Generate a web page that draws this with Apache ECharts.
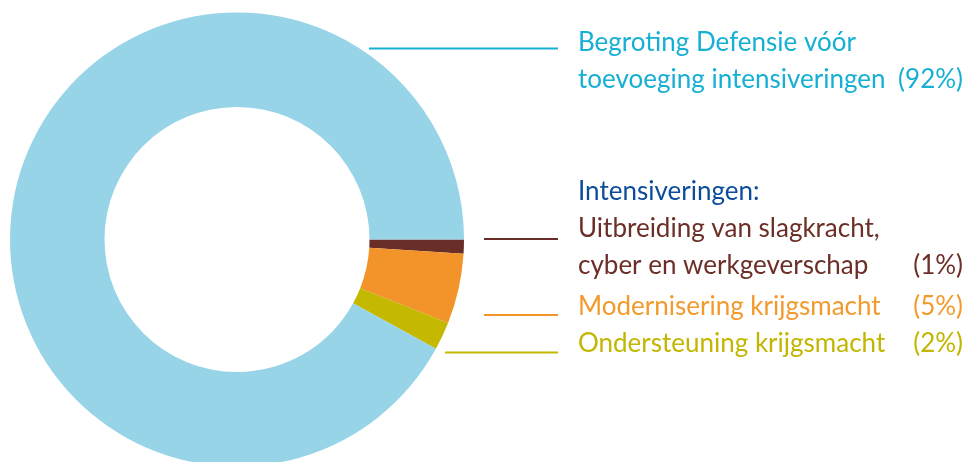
<!DOCTYPE html>
<html>
<head>
<meta charset="utf-8">
<script src="https://cdn.jsdelivr.net/npm/echarts@6/dist/echarts.min.js"></script>
<style>
  html, body { margin: 0; padding: 0; background: #fff; }
  #chart { width: 968px; height: 462px; }
</style>
</head>
<body>
<div id="chart"></div>
<script>
  // slices, clockwise from 3 o'clock
  var categories = [
    'Uitbreiding van slagkracht,\ncyber en werkgeverschap',
    'Modernisering krijgsmacht',
    'Ondersteuning krijgsmacht',
    'Begroting Defensie vóór\ntoevoeging intensiveringen'
  ];
  var values = [1, 5, 2, 92];
  var heading = 'Intensiveringen:';

  var sliceColors = ['#682e27', '#f29429', '#c4b800', '#97d4e8'];
  var textColors = ['#6b2f27', '#f39a2c', '#c3b600', '#17afd4'];

  // label anchor (left, top) and line [x1, x2, y] per slice
  var labelPos = [[578, 173], [578, 288], [578, 325], [578, 24]];
  var linePos = [[484, 558, 239], [484, 558, 315], [445, 558, 352.5], [369, 558, 48.5]];

  var chart = echarts.init(document.getElementById('chart'));

  var data = categories.map(function(name, i) {
    return {
      name: name,
      value: values[i],
      itemStyle: { color: sliceColors[i] },
      label: { color: textColors[i] },
      labelLine: { lineStyle: { color: i === 3 ? textColors[i] : sliceColors[i] } }
    };
  });

  chart.setOption({
    animation: false,
    series: [{
      type: 'pie',
      center: [237, 239.5],
      radius: [132.5, 227],
      startAngle: 0,
      clockwise: true,
      avoidLabelOverlap: false,
      data: data,
      label: {
        show: true,
        width: 385,
        overflow: 'none',
        fontFamily: 'Lato',
        fontSize: 26,
        lineHeight: 37,
        formatter: function(p) {
          var lines = p.name.split('\n');
          var out = lines.map(function(l, k) {
            var s = '{n|' + l + '}';
            if (k === lines.length - 1) s += '{p|(' + p.value + '%)}';
            return s;
          }).join('\n');
          if (p.dataIndex === 0) out = '{h|' + heading + '}\n' + out;
          return out;
        },
        rich: {
          h: { color: '#0c4c9b', fontFamily: 'Lato', fontSize: 26, lineHeight: 37 },
          n: { fontFamily: 'Lato', fontSize: 26, lineHeight: 37 },
          p: { fontFamily: 'Lato', fontSize: 26, lineHeight: 37, align: 'right' }
        }
      },
      labelLine: { show: true, smooth: false, lineStyle: { width: 2 } },
      labelLayout: function(params) {
        var i = params.dataIndex;
        var l = linePos[i];
        return {
          x: labelPos[i][0],
          y: labelPos[i][1],
          align: 'left',
          verticalAlign: 'top',
          labelLinePoints: [[l[0], l[2]], [l[1], l[2]], [l[1], l[2]]]
        };
      }
    }]
  });
</script>
</body>
</html>
